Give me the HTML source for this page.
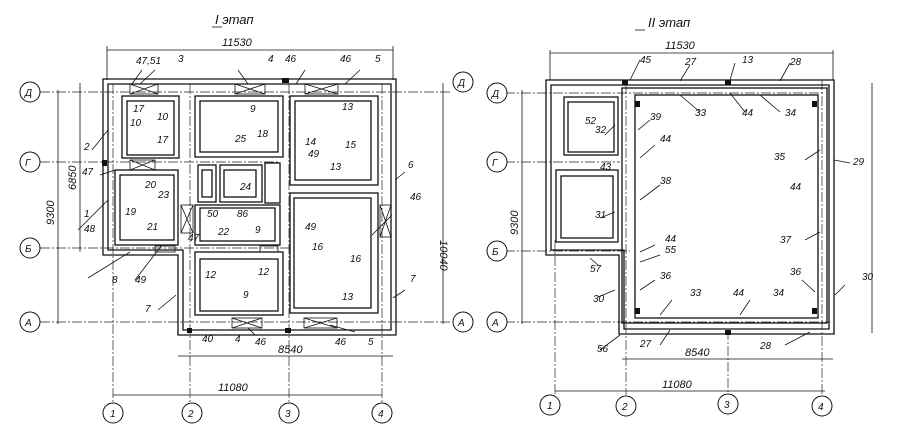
<!DOCTYPE html>
<html><head><meta charset="utf-8"><style>
html,body{margin:0;padding:0;background:#fff;}
svg{display:block}
text{font-family:"Liberation Sans",sans-serif;font-style:italic;font-size:10px;fill:#111}
.w{fill:none;stroke:#111;stroke-width:1.3}
.t{fill:none;stroke:#111;stroke-width:0.8}
.d{fill:none;stroke:#222;stroke-width:0.7;stroke-dasharray:10 2 2 2}
.c{fill:#fff;stroke:#111;stroke-width:1}
</style></head><body>
<svg width="897" height="446" viewBox="0 0 897 446">
<!-- ===== LEFT PLAN ===== -->
<text x="215" y="24" style="font-size:13px">I этап</text>
<line class="t" x1="212" y1="27" x2="222" y2="27"/>
<!-- dims -->
<line class="t" x1="107" y1="50" x2="393" y2="50"/><text x="222" y="46" style="font-size:11px">11530</text>
<line class="t" x1="107" y1="46" x2="107" y2="80"/><line class="t" x1="393" y1="46" x2="393" y2="80"/>
<line class="t" x1="80" y1="83" x2="80" y2="252"/><text x="76" y="190" transform="rotate(-90 76 190)" style="font-size:11px">6850</text>
<line class="t" x1="58" y1="90" x2="58" y2="324"/><text x="54" y="225" transform="rotate(-90 54 225)" style="font-size:11px">9300</text>
<line class="t" x1="443" y1="83" x2="443" y2="324"/><text x="440" y="240" transform="rotate(90 440 240)" style="font-size:11px">10040</text>
<line class="t" x1="178" y1="356" x2="393" y2="356"/><text x="278" y="353" style="font-size:11px">8540</text>
<line class="t" x1="113" y1="395" x2="382" y2="395"/><text x="218" y="391" style="font-size:11px">11080</text>
<!-- axes -->
<line class="d" x1="40" y1="92" x2="450" y2="92"/>
<line class="d" x1="40" y1="162" x2="280" y2="162"/>
<line class="d" x1="40" y1="248" x2="290" y2="248"/>
<line class="d" x1="40" y1="322" x2="450" y2="322"/>
<line class="d" x1="113" y1="84" x2="113" y2="403"/>
<line class="d" x1="190" y1="84" x2="190" y2="403"/>
<line class="d" x1="289" y1="84" x2="289" y2="403"/>
<line class="d" x1="382" y1="84" x2="382" y2="403"/>
<circle class="c" cx="30" cy="92" r="10"/><text x="25" y="96">Д</text>
<circle class="c" cx="30" cy="162" r="10"/><text x="25" y="166">Г</text>
<circle class="c" cx="30" cy="248" r="10"/><text x="25" y="252">Б</text>
<circle class="c" cx="30" cy="322" r="10"/><text x="25" y="326">А</text>
<circle class="c" cx="463" cy="82" r="10"/><text x="458" y="86">Д</text>
<circle class="c" cx="463" cy="322" r="10"/><text x="458" y="326">А</text>
<circle class="c" cx="113" cy="413" r="10"/><text x="110" y="417">1</text>
<circle class="c" cx="192" cy="413" r="10"/><text x="188" y="417">2</text>
<circle class="c" cx="289" cy="413" r="10"/><text x="285" y="417">3</text>
<circle class="c" cx="382" cy="413" r="10"/><text x="378" y="417">4</text>
<!-- outer walls -->
<path class="w" d="M103 79 H396 V335 H178 V255 H103 Z"/>
<path class="w" d="M108 84 H391 V330 H183 V250 H108 Z"/>
<!-- rooms -->
<rect class="w" x="122" y="96" width="57" height="62"/><rect class="w" x="127" y="101" width="47" height="54"/>
<rect class="w" x="195" y="96" width="88" height="61"/><rect class="w" x="200" y="101" width="78" height="51"/>
<rect class="w" x="290" y="96" width="88" height="89"/><rect class="w" x="295" y="101" width="76" height="79"/>
<rect class="w" x="115" y="170" width="63" height="75"/><rect class="w" x="120" y="175" width="54" height="65"/>
<rect class="w" x="290" y="193" width="88" height="120"/><rect class="w" x="294" y="198" width="77" height="110"/>
<rect class="w" x="195" y="252" width="88" height="63"/><rect class="w" x="200" y="259" width="78" height="52"/>
<rect class="w" x="195" y="205" width="85" height="40"/><rect class="w" x="200" y="208" width="75" height="33"/>
<rect class="w" x="198" y="165" width="18" height="37"/><rect class="w" x="202" y="170" width="10" height="27"/>
<rect class="w" x="220" y="165" width="42" height="37"/><rect class="w" x="224" y="170" width="32" height="27"/>
<rect class="w" x="265" y="163" width="15" height="40"/>
<!-- windows X -->
<g class="t">
<rect x="130" y="84" width="28" height="10"/><path d="M130 84 L158 94 M130 94 L158 84"/>
<rect x="235" y="84" width="30" height="10"/><path d="M235 84 L265 94 M235 94 L265 84"/>
<rect x="305" y="84" width="33" height="10"/><path d="M305 84 L338 94 M305 94 L338 84"/>
<rect x="130" y="160" width="25" height="10"/><path d="M130 160 L155 170 M130 170 L155 160"/>
<rect x="181" y="205" width="12" height="28"/><path d="M181 205 L193 233 M181 233 L193 205"/>
<rect x="380" y="205" width="11" height="32"/><path d="M380 205 L391 237 M380 237 L391 205"/>
<rect x="232" y="318" width="30" height="10"/><path d="M232 318 L262 328 M232 328 L262 318"/>
<rect x="304" y="318" width="33" height="10"/><path d="M304 318 L337 328 M304 328 L337 318"/>
<rect x="155" y="246" width="20" height="6"/><rect x="260" y="246" width="18" height="6"/>
</g>
<rect x="102" y="160" width="5" height="6" fill="#111"/><rect x="282" y="78" width="7" height="5" fill="#111"/>
<rect x="187" y="328" width="5" height="5" fill="#111"/><rect x="285" y="328" width="6" height="5" fill="#111"/>
<!-- leaders & labels -->
<g class="t">
<path d="M92 150 L108 130 M78 230 L108 200 M88 278 L130 252 M135 280 L162 245 M158 310 L176 295 M405 290 L393 298 M395 180 L405 172 M372 235 L392 215 M142 70 L132 84 M155 70 L140 84 M238 70 L248 84 M305 70 L296 84 M360 70 L345 84 M100 175 L115 170 M355 332 L330 325 M255 335 L248 328"/>
</g>
<text x="136" y="64">47,51</text><text x="178" y="62">3</text><text x="268" y="62">4</text><text x="285" y="62">46</text>
<text x="340" y="62">46</text><text x="375" y="62">5</text><text x="84" y="150">2</text><text x="82" y="175">47</text>
<text x="84" y="217">1</text><text x="84" y="232">48</text><text x="112" y="283">8</text><text x="135" y="283">49</text>
<text x="145" y="312">7</text><text x="408" y="168">6</text><text x="410" y="200">46</text><text x="410" y="282">7</text>
<text x="133" y="112">17</text><text x="130" y="126">10</text><text x="157" y="120">10</text><text x="157" y="143">17</text>
<text x="250" y="112">9</text><text x="257" y="137">18</text><text x="235" y="142">25</text><text x="305" y="145">14</text>
<text x="342" y="110">13</text><text x="345" y="148">15</text><text x="308" y="157">49</text><text x="330" y="170">13</text>
<text x="145" y="188">20</text><text x="158" y="198">23</text><text x="125" y="215">19</text><text x="147" y="230">21</text>
<text x="188" y="241">47</text><text x="218" y="235">22</text><text x="240" y="190">24</text><text x="207" y="217">50</text>
<text x="237" y="217">86</text><text x="255" y="233">9</text><text x="305" y="230">49</text><text x="312" y="250">16</text>
<text x="350" y="262">16</text><text x="205" y="278">12</text><text x="258" y="275">12</text><text x="243" y="298">9</text>
<text x="342" y="300">13</text><text x="202" y="342">40</text><text x="235" y="342">4</text><text x="255" y="345">46</text>
<text x="335" y="345">46</text><text x="368" y="345">5</text>
<!-- ===== RIGHT PLAN ===== -->
<text x="648" y="27" style="font-size:13px">II этап</text>
<line class="t" x1="635" y1="30" x2="645" y2="30"/>
<line class="t" x1="550" y1="53" x2="833" y2="53"/><text x="665" y="49" style="font-size:11px">11530</text>
<line class="t" x1="550" y1="50" x2="550" y2="80"/><line class="t" x1="833" y1="50" x2="833" y2="80"/>
<line class="t" x1="522" y1="90" x2="522" y2="324"/><text x="518" y="235" transform="rotate(-90 518 235)" style="font-size:11px">9300</text>
<line class="t" x1="872" y1="83" x2="872" y2="333"/>
<line class="t" x1="622" y1="359" x2="833" y2="359"/><text x="685" y="356" style="font-size:11px">8540</text>
<line class="t" x1="555" y1="391" x2="825" y2="391"/><text x="662" y="388" style="font-size:11px">11080</text>
<line class="d" x1="505" y1="93" x2="825" y2="93"/>
<line class="d" x1="505" y1="162" x2="620" y2="162"/>
<line class="d" x1="505" y1="251" x2="630" y2="251"/>
<line class="d" x1="505" y1="322" x2="830" y2="322"/>
<line class="d" x1="555" y1="240" x2="555" y2="395"/>
<line class="d" x1="626" y1="84" x2="626" y2="395"/>
<line class="d" x1="728" y1="330" x2="728" y2="395"/>
<line class="d" x1="822" y1="80" x2="822" y2="395"/>
<circle class="c" cx="497" cy="93" r="10"/><text x="492" y="97">Д</text>
<circle class="c" cx="497" cy="162" r="10"/><text x="492" y="166">Г</text>
<circle class="c" cx="497" cy="251" r="10"/><text x="492" y="255">Б</text>
<circle class="c" cx="497" cy="322" r="10"/><text x="492" y="326">А</text>
<circle class="c" cx="550" cy="405" r="10"/><text x="547" y="409">1</text>
<circle class="c" cx="626" cy="406" r="10"/><text x="622" y="410">2</text>
<circle class="c" cx="728" cy="404" r="10"/><text x="724" y="408">3</text>
<circle class="c" cx="822" cy="406" r="10"/><text x="818" y="410">4</text>
<path class="w" d="M546 80 H834 V334 H619 V255 H546 Z"/>
<path class="w" d="M551 85 H829 V329 H624 V250 H551 Z"/>
<rect class="w" x="622" y="88" width="205" height="235"/>
<rect class="w" x="635" y="95" width="183" height="223"/>
<rect class="w" x="564" y="97" width="54" height="58"/><rect class="w" x="568" y="102" width="46" height="50"/>
<rect class="w" x="556" y="170" width="62" height="72"/><rect class="w" x="561" y="176" width="52" height="62"/>
<rect x="622" y="80" width="6" height="5" fill="#111"/><rect x="725" y="80" width="6" height="5" fill="#111"/>
<rect x="635" y="101" width="5" height="6" fill="#111"/><rect x="812" y="101" width="5" height="6" fill="#111"/>
<rect x="635" y="308" width="5" height="6" fill="#111"/><rect x="812" y="308" width="5" height="6" fill="#111"/>
<rect x="725" y="330" width="6" height="5" fill="#111"/>
<g class="t">
<path d="M640 60 L630 80 M690 65 L680 81 M735 63 L730 80 M790 63 L780 81 M700 112 L680 95 M745 112 L730 93 M780 112 L760 95 M650 120 L638 130 M655 145 L640 158 M660 185 L640 200 M615 125 L605 135 M615 212 L600 218 M655 245 L640 252 M660 255 L640 262 M655 280 L640 290 M805 160 L820 150 M805 240 L820 232 M802 280 L815 292 M835 295 L845 285 M850 163 L834 160 M660 315 L672 300 M740 315 L750 300 M785 345 L810 332 M660 345 L670 330 M600 350 L620 335 M598 265 L590 258 M598 297 L615 290"/>
</g>
<text x="640" y="63">45</text><text x="685" y="65">27</text><text x="742" y="63">13</text><text x="790" y="65">28</text>
<text x="695" y="116">33</text><text x="742" y="116">44</text><text x="785" y="116">34</text>
<text x="650" y="120">39</text><text x="660" y="142">44</text><text x="660" y="184">38</text>
<text x="585" y="124">52</text><text x="595" y="133">32</text><text x="600" y="170">43</text><text x="595" y="218">31</text>
<text x="665" y="242">44</text><text x="665" y="253">55</text><text x="660" y="279">36</text>
<text x="774" y="160">35</text><text x="790" y="190">44</text><text x="780" y="243">37</text><text x="790" y="275">36</text>
<text x="853" y="165">29</text><text x="862" y="280">30</text><text x="690" y="296">33</text><text x="733" y="296">44</text>
<text x="773" y="296">34</text><text x="590" y="272">57</text><text x="593" y="302">30</text>
<text x="597" y="352">56</text><text x="640" y="347">27</text><text x="760" y="349">28</text>
</svg>
</body></html>
